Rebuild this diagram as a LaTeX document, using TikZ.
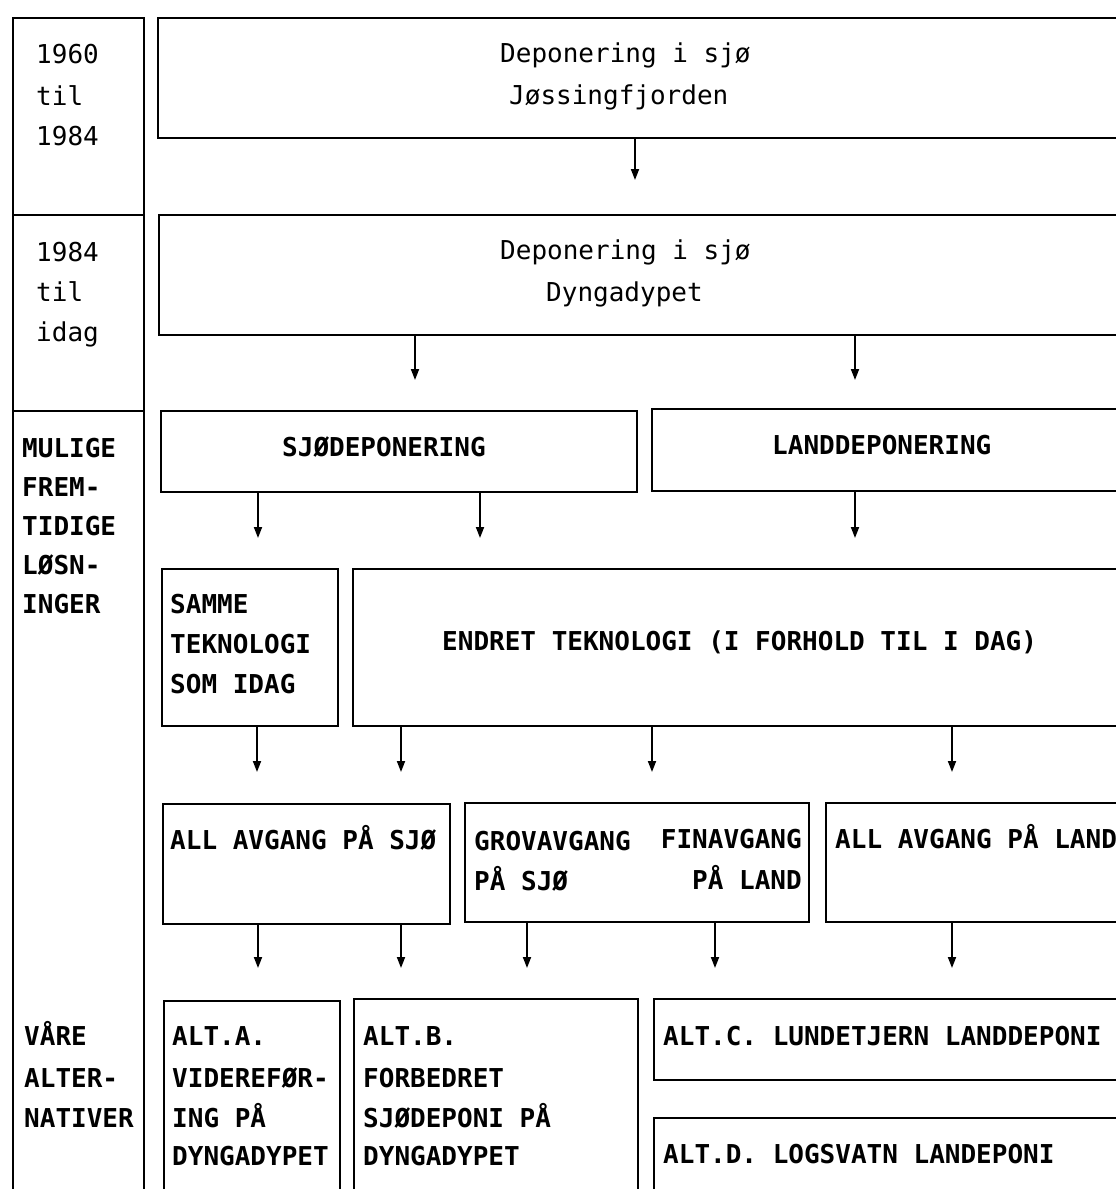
\documentclass[tikz,border=0pt]{standalone}
\usepackage{fontspec}
\setmonofont{DejaVu Sans Mono}
\usetikzlibrary{arrows.meta}
\begin{document}
\begin{tikzpicture}[x=1pt,y=-1pt]
\tikzset{
 bx/.style={draw, line width=2pt, rectangle, inner sep=0pt, anchor=north west},
 rt/.style={font=\ttfamily\fontsize{26}{30}\selectfont, inner sep=0pt, anchor=base west},
 bt/.style={font=\ttfamily\bfseries\fontsize{26}{30}\selectfont, inner sep=0pt, anchor=base west},
 arr/.style={line width=1.8pt, -{Triangle[length=11pt,width=8pt]}},
}
\useasboundingbox[fill=white] (0,0) rectangle (1116,1189);
\clip (0,0) rectangle (1116,1189);
% left column
\node[bx, minimum width=131pt, minimum height=197pt] (l1) at (12,17) {};
\node[bx, minimum width=131pt, minimum height=196pt] (l2) at (12,214) {};
\node[bx, minimum width=131pt, minimum height=800pt] (l3) at (12,410) {};
% boxes
\node[bx, minimum width=973pt, minimum height=120pt] (b1) at (157,17) {};
\node[bx, minimum width=972pt, minimum height=120pt] (b2) at (158,214) {};
\node[bx, minimum width=476pt, minimum height=81pt] (b3a) at (160,410) {};
\node[bx, minimum width=479pt, minimum height=82pt] (b3b) at (651,408) {};
\node[bx, minimum width=176pt, minimum height=157pt] (b4a) at (161,568) {};
\node[bx, minimum width=778pt, minimum height=157pt] (b4b) at (352,568) {};
\node[bx, minimum width=287pt, minimum height=120pt] (b5a) at (162,803) {};
\node[bx, minimum width=344pt, minimum height=119pt] (b5b) at (464,802) {};
\node[bx, minimum width=305pt, minimum height=119pt] (b5c) at (825,802) {};
\node[bx, minimum width=176pt, minimum height=210pt] (b6a) at (163,1000) {};
\node[bx, minimum width=284pt, minimum height=212pt] (b6b) at (353,998) {};
\node[bx, minimum width=477pt, minimum height=81pt] (b6c) at (653,998) {};
\node[bx, minimum width=477pt, minimum height=93pt] (b6d) at (653,1117) {};
% left column texts
\node[rt] (t1a) at (36,63) {1960};
\node[rt] (t1b) at (36,105) {til};
\node[rt] (t1c) at (36,145) {1984};
\node[rt] (t2a) at (36,261) {1984};
\node[rt] (t2b) at (36,301) {til};
\node[rt] (t2c) at (36,341) {idag};
\node[bt] (t3a) at (22,457) {MULIGE};
\node[bt] (t3b) at (22,496) {FREM-};
\node[bt] (t3c) at (22,535) {TIDIGE};
\node[bt] (t3d) at (22,574) {LØSN-};
\node[bt] (t3e) at (22,613) {INGER};
\node[bt] (t4a) at (24,1045) {VÅRE};
\node[bt] (t4b) at (24,1087) {ALTER-};
\node[bt] (t4c) at (24,1127) {NATIVER};
% box texts
\node[rt] (tb1a) at (500,62) {Deponering i sjø};
\node[rt] (tb1b) at (509,104) {Jøssingfjorden};
\node[rt] (tb2a) at (500,259) {Deponering i sjø};
\node[rt] (tb2b) at (546,301) {Dyngadypet};
\node[bt] (tb3a) at (282,456) {SJØDEPONERING};
\node[bt] (tb3b) at (772,454) {LANDDEPONERING};
\node[bt] (tb4a) at (170,613) {SAMME};
\node[bt] (tb4b) at (170,653) {TEKNOLOGI};
\node[bt] (tb4c) at (170,693) {SOM IDAG};
\node[bt] (tb4d) at (442,650) {ENDRET TEKNOLOGI (I FORHOLD TIL I DAG)};
\node[bt] (tb5a) at (170,849) {ALL AVGANG PÅ SJØ};
\node[bt] (tb5b) at (474,850) {GROVAVGANG};
\node[bt] (tb5c) at (474,890) {PÅ SJØ};
\node[bt, anchor=base east] (tb5d) at (802,848) {FINAVGANG};
\node[bt, anchor=base east] (tb5e) at (802,889) {PÅ LAND};
\node[bt] (tb5f) at (835,848) {ALL AVGANG PÅ LAND};
\node[bt] (tb6a) at (172,1045) {ALT.A.};
\node[bt] (tb6b) at (172,1087) {VIDEREFØR-};
\node[bt] (tb6c) at (172,1127) {ING PÅ};
\node[bt] (tb6d) at (172,1165) {DYNGADYPET};
\node[bt] (tb6e) at (363,1045) {ALT.B.};
\node[bt] (tb6f) at (363,1087) {FORBEDRET};
\node[bt] (tb6g) at (363,1127) {SJØDEPONI PÅ};
\node[bt] (tb6h) at (363,1165) {DYNGADYPET};
\node[bt] (tb6i) at (663,1045) {ALT.C. LUNDETJERN LANDDEPONI};
\node[bt] (tb6j) at (663,1163) {ALT.D. LOGSVATN LANDEPONI};
% arrow tips
\coordinate (a1) at (635,180);
\coordinate (a2) at (415,380);
\coordinate (a3) at (855,380);
\coordinate (a4) at (258,538);
\coordinate (a5) at (480,538);
\coordinate (a6) at (855,538);
\coordinate (a7) at (257,772);
\coordinate (a8) at (401,772);
\coordinate (a9) at (652,772);
\coordinate (a10) at (952,772);
\coordinate (a11) at (258,968);
\coordinate (a12) at (401,968);
\coordinate (a13) at (527,968);
\coordinate (a14) at (715,968);
\coordinate (a15) at (952,968);
\draw[arr] (b1.south -| a1) -- (a1);
\draw[arr] (b2.south -| a2) -- (a2);
\draw[arr] (b2.south -| a3) -- (a3);
\draw[arr] (b3a.south -| a4) -- (a4);
\draw[arr] (b3a.south -| a5) -- (a5);
\draw[arr] (b3b.south -| a6) -- (a6);
\draw[arr] (b4a.south -| a7) -- (a7);
\draw[arr] (b4b.south -| a8) -- (a8);
\draw[arr] (b4b.south -| a9) -- (a9);
\draw[arr] (b4b.south -| a10) -- (a10);
\draw[arr] (b5a.south -| a11) -- (a11);
\draw[arr] (b5a.south -| a12) -- (a12);
\draw[arr] (b5b.south -| a13) -- (a13);
\draw[arr] (b5b.south -| a14) -- (a14);
\draw[arr] (b5c.south -| a15) -- (a15);
\end{tikzpicture}
\end{document}
